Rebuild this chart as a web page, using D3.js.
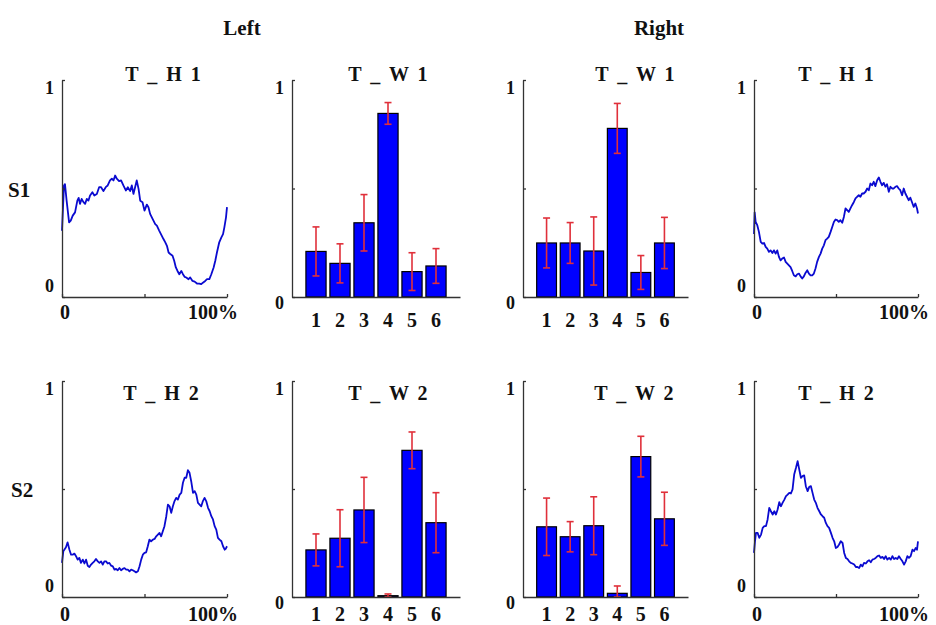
<!DOCTYPE html>
<html>
<head>
<meta charset="utf-8">
<script src="https://cdn.jsdelivr.net/npm/d3@7"></script>
<style>
  body { margin: 0; background: #fff; }
  svg text { font-family: "Liberation Serif", "Times New Roman", serif; font-weight: bold; fill: #111; }
  .axis path, .axis line { stroke: #333; stroke-width: 1.3; }
</style>
</head>
<body>
<svg id="chart" width="936" height="625"></svg>
<script>
// ---- data ----
const categories = [1, 2, 3, 4, 5, 6];

const wLeft1     = [0.210, 0.155, 0.342, 0.846, 0.117, 0.143];
const wLeft1Err  = [0.113, 0.090, 0.130, 0.050, 0.087, 0.080];
const wRight1    = [0.249, 0.249, 0.212, 0.777, 0.113, 0.249];
const wRight1Err = [0.115, 0.094, 0.157, 0.115, 0.078, 0.118];
const wLeft2     = [0.218, 0.272, 0.403, 0.006, 0.679, 0.344];
const wLeft2Err  = [0.074, 0.132, 0.151, 0.008, 0.085, 0.139];
const wRight2    = [0.325, 0.279, 0.330, 0.017, 0.650, 0.362];
const wRight2Err = [0.133, 0.070, 0.134, 0.034, 0.094, 0.123];

// [percent, value]
const hLeft1 = [[0,0.305],[1.2,0.514],[1.8,0.52],[2.8,0.444],[4.3,0.344],[5.3,0.352],[6.5,0.375],[7.9,0.39],
  [9.3,0.444],[10.1,0.457],[10.9,0.429],[11.9,0.452],[13,0.437],[14,0.429],[15,0.452],[16,0.444],[17,0.468],
  [18.4,0.483],[19.6,0.468],[21.1,0.475],[22.5,0.506],[23.7,0.506],[25.1,0.488],[26.5,0.506],[27.7,0.514],
  [29.1,0.537],[30.2,0.545],[31.2,0.537],[32.2,0.56],[33.2,0.545],[34.6,0.534],[35.8,0.537],[37.2,0.514],
  [38.7,0.491],[39.9,0.506],[41.3,0.488],[42.3,0.514],[43.3,0.475],[44.3,0.506],[45.3,0.537],[46.4,0.498],
  [47.4,0.444],[48.8,0.437],[50,0.398],[51.4,0.426],[52.4,0.414],[53.4,0.383],[54.9,0.36],[56.5,0.336],
  [57.5,0.329],[58.9,0.306],[60.5,0.282],[61.5,0.267],[62.6,0.252],[63.6,0.236],[64.6,0.205],[65.6,0.198],
  [67,0.19],[68,0.167],[69,0.136],[70,0.12],[71.1,0.105],[72.3,0.12],[73.3,0.105],[74.3,0.093],[75.3,0.09],
  [76.7,0.082],[77.7,0.09],[79.1,0.074],[80.4,0.071],[81.8,0.062],[83.2,0.062],[84.4,0.059],[85.4,0.066],
  [86.8,0.074],[87.9,0.082],[89.3,0.082],[90.5,0.105],[91.9,0.136],[92.9,0.167],[93.9,0.205],[95.3,0.252],
  [96.6,0.275],[97.6,0.29],[98.4,0.321],[99.4,0.367],[100,0.414]];

const hRight1 = [[0,0.29],[0.4,0.39],[1,0.346],[2,0.331],[3,0.30],[4.1,0.254],[5.1,0.246],[6.1,0.249],
  [7.1,0.231],[8.1,0.223],[9.1,0.208],[10.1,0.215],[11.2,0.203],[12.2,0.215],[13.2,0.2],[14.2,0.215],
  [15.2,0.185],[16.2,0.169],[17.2,0.177],[18.3,0.182],[19.3,0.162],[20.3,0.154],[21.3,0.146],[22.3,0.138],
  [23.3,0.12],[24.3,0.1],[25.4,0.095],[26.4,0.105],[27.4,0.108],[28.4,0.095],[29.4,0.085],[30.4,0.095],
  [31.4,0.111],[32.5,0.123],[33.5,0.108],[34.5,0.1],[35.5,0.1],[36.5,0.108],[37.5,0.131],[38.5,0.162],
  [39.6,0.185],[40.6,0.2],[41.6,0.223],[42.6,0.238],[43.6,0.262],[44.6,0.269],[45.6,0.277],[46.7,0.30],
  [47.7,0.323],[48.7,0.346],[49.7,0.357],[50.7,0.354],[51.7,0.346],[52.7,0.354],[53.8,0.342],[54.8,0.369],
  [55.8,0.408],[56.8,0.4],[57.8,0.392],[58.8,0.408],[59.8,0.423],[60.9,0.438],[61.9,0.454],[62.9,0.462],
  [63.9,0.469],[64.9,0.462],[65.9,0.477],[66.9,0.477],[68,0.485],[69,0.5],[70,0.492],[71,0.523],[72,0.515],
  [73,0.531],[74,0.511],[75.1,0.538],[76.1,0.551],[77.1,0.531],[78.1,0.515],[79.1,0.526],[80.1,0.508],
  [81.1,0.52],[82.2,0.485],[83.2,0.508],[84.2,0.5],[85.2,0.5],[86.2,0.508],[87.2,0.511],[88.2,0.5],
  [89.2,0.492],[90.3,0.469],[91.3,0.5],[92.3,0.477],[93.3,0.462],[94.3,0.446],[95.3,0.458],[96.3,0.438],
  [97.4,0.415],[98.4,0.431],[99.4,0.408],[100,0.385]];

const hLeft2 = [[0,0.158],[0.8,0.212],[2.4,0.23],[3.4,0.253],[4.5,0.219],[5.5,0.196],[6.5,0.196],[7.5,0.201],
  [8.5,0.189],[9.5,0.173],[10.5,0.181],[11.5,0.158],[12.6,0.173],[13.6,0.155],[14.6,0.173],[15.6,0.145],
  [16.6,0.139],[17.6,0.15],[18.6,0.158],[19.6,0.165],[20.6,0.176],[21.7,0.165],[22.7,0.158],[23.7,0.165],
  [24.7,0.15],[25.7,0.165],[26.7,0.165],[27.7,0.155],[28.7,0.158],[29.8,0.145],[30.8,0.142],[31.8,0.127],
  [32.8,0.13],[33.8,0.124],[34.8,0.134],[35.8,0.124],[36.8,0.13],[37.9,0.134],[38.9,0.127],[39.9,0.127],
  [40.9,0.119],[41.9,0.127],[42.9,0.124],[43.9,0.119],[44.9,0.114],[46,0.119],[47,0.142],[48,0.173],
  [49,0.196],[50,0.204],[51,0.207],[52,0.235],[53,0.266],[54,0.258],[55.1,0.266],[56.1,0.269],[57.1,0.281],
  [58.1,0.289],[59.1,0.297],[60.1,0.281],[61.1,0.304],[62.1,0.328],[63.2,0.374],[64.2,0.428],[65.2,0.42],
  [66.2,0.39],[67.2,0.42],[68.2,0.444],[69.2,0.459],[70.2,0.451],[71.3,0.474],[72.3,0.482],[73.3,0.529],
  [74.3,0.552],[75.3,0.552],[76.3,0.587],[77.3,0.575],[78.3,0.536],[79.4,0.482],[80.4,0.49],[81.4,0.474],
  [82.4,0.436],[83.4,0.428],[84.4,0.42],[85.4,0.444],[86.4,0.459],[87.4,0.444],[88.5,0.413],[89.5,0.397],
  [90.5,0.374],[91.5,0.359],[92.5,0.328],[93.5,0.312],[94.5,0.274],[95.5,0.266],[96.6,0.258],[97.6,0.235],
  [98.6,0.219],[99.2,0.223],[100,0.235]];

const hRight2 = [[0,0.204],[0.6,0.258],[1.2,0.297],[2.2,0.297],[3.2,0.274],[4.3,0.289],[5.3,0.32],[6.3,0.328],
  [7.3,0.328],[8.3,0.359],[9.3,0.413],[10.3,0.397],[11.4,0.382],[12.4,0.397],[13.4,0.382],[14.4,0.405],
  [15.4,0.439],[16.4,0.42],[17.4,0.436],[18.5,0.451],[19.5,0.467],[20.5,0.474],[21.5,0.482],[22.5,0.479],
  [23.5,0.498],[24.5,0.567],[25.6,0.598],[26.6,0.629],[27.6,0.59],[28.6,0.552],[29.6,0.56],[30.6,0.563],
  [31.6,0.513],[32.7,0.49],[33.7,0.51],[34.7,0.513],[35.7,0.482],[36.7,0.451],[37.7,0.436],[38.7,0.413],
  [39.8,0.397],[40.8,0.382],[41.8,0.374],[42.8,0.367],[43.8,0.343],[44.8,0.328],[45.8,0.32],[46.9,0.297],
  [47.9,0.274],[48.9,0.258],[49.9,0.227],[50.9,0.232],[51.9,0.243],[52.9,0.258],[54,0.25],[55,0.204],
  [56,0.181],[57,0.176],[58,0.165],[59,0.158],[60,0.155],[61.1,0.15],[62.1,0.139],[63.1,0.139],[64.1,0.134],
  [65.1,0.15],[66.1,0.142],[67.1,0.158],[68.2,0.155],[69.2,0.165],[70.2,0.17],[71.2,0.161],[72.2,0.173],
  [73.2,0.176],[74.2,0.181],[75.3,0.189],[76.3,0.192],[77.3,0.181],[78.3,0.186],[79.3,0.176],[80.3,0.189],
  [81.3,0.173],[82.4,0.181],[83.4,0.173],[84.4,0.189],[85.4,0.176],[86.4,0.181],[87.4,0.176],[88.4,0.189],
  [89.5,0.176],[90.5,0.165],[91.5,0.15],[92.5,0.165],[93.5,0.189],[94.5,0.181],[95.5,0.189],[96.6,0.219],
  [97.6,0.212],[98.6,0.227],[99.4,0.219],[100,0.258]];

const yTicks = [0, 0.5, 1];
const xTicksLine = [0, 50, 100];

// ---- layout ----
const rows = [{top: 80, bottom: 297, title: 81}, {top: 381, bottom: 597, title: 400}];
const cols = [{x0: 62, x1: 227}, {x0: 292, x1: 460}, {x0: 523, x1: 688}, {x0: 754, x1: 918}];

const panels = [
  {row: 0, col: 0, type: "line", data: hLeft1, title: "T _ H 1", tx: 164},
  {row: 0, col: 1, type: "bar", data: wLeft1, err: wLeft1Err, title: "T _ W 1", tx: 389},
  {row: 0, col: 2, type: "bar", data: wRight1, err: wRight1Err, title: "T _ W 1", tx: 636},
  {row: 0, col: 3, type: "line", data: hRight1, title: "T _ H 1", tx: 837},
  {row: 1, col: 0, type: "line", data: hLeft2, title: "T _ H 2", tx: 162},
  {row: 1, col: 1, type: "bar", data: wLeft2, err: wLeft2Err, title: "T _ W 2", tx: 389},
  {row: 1, col: 2, type: "bar", data: wRight2, err: wRight2Err, title: "T _ W 2", tx: 635},
  {row: 1, col: 3, type: "line", data: hRight2, title: "T _ H 2", tx: 837}
];

const svg = d3.select("#chart");

svg.append("text").attr("x", 242).attr("y", 35).attr("text-anchor", "middle")
  .style("font-size", "21px").text("Left");
svg.append("text").attr("x", 659).attr("y", 35).attr("text-anchor", "middle")
  .style("font-size", "21px").text("Right");
svg.append("text").attr("x", 8).attr("y", 197).style("font-size", "21px").text("S1");
svg.append("text").attr("x", 11).attr("y", 497).style("font-size", "21px").text("S2");

panels.forEach(p => {
  const r = rows[p.row], c = cols[p.col];
  const y = d3.scaleLinear().domain([0, 1]).range([r.bottom, r.top]);
  const g = svg.append("g");

  let x;
  if (p.type === "line") {
    x = d3.scaleLinear().domain([0, 100]).range([c.x0, c.x1]);
  } else {
    x = d3.scaleLinear().domain([0, 7]).range([c.x0, c.x1]);
  }

  // marks
  if (p.type === "line") {
    const line = d3.line().x(d => x(d[0])).y(d => y(d[1]));
    g.append("path").datum(p.data)
      .attr("d", line)
      .attr("fill", "none")
      .attr("stroke", "#0a0ad0")
      .attr("stroke-width", 1.8)
      .attr("stroke-linejoin", "round");
  } else {
    const bw = (x(1) - x(0)) * 0.84;
    g.selectAll("rect.bar").data(categories).join("rect")
      .attr("class", "bar")
      .attr("x", (d, i) => x(d) - bw / 2)
      .attr("y", (d, i) => y(p.data[i]))
      .attr("width", bw)
      .attr("height", (d, i) => y(0) - y(p.data[i]))
      .attr("fill", "#0000ff")
      .attr("stroke", "#000")
      .attr("stroke-width", 1.2);

    const cap = 3.5;
    const eb = g.selectAll("g.err").data(categories).join("g").attr("class", "err")
      .attr("stroke", "#e0303a").attr("stroke-width", 1.6);
    eb.append("line")
      .attr("x1", d => x(d)).attr("x2", d => x(d))
      .attr("y1", (d, i) => y(p.data[i] + p.err[i]))
      .attr("y2", (d, i) => y(Math.max(0, p.data[i] - p.err[i])));
    eb.append("line")
      .attr("x1", d => x(d) - cap).attr("x2", d => x(d) + cap)
      .attr("y1", (d, i) => y(p.data[i] + p.err[i]))
      .attr("y2", (d, i) => y(p.data[i] + p.err[i]));
    eb.append("line")
      .attr("x1", d => x(d) - cap).attr("x2", d => x(d) + cap)
      .attr("y1", (d, i) => y(Math.max(0, p.data[i] - p.err[i])))
      .attr("y2", (d, i) => y(Math.max(0, p.data[i] - p.err[i])));
  }

  // axes
  g.append("g").attr("class", "axis")
    .attr("transform", `translate(${c.x0},0)`)
    .call(d3.axisLeft(y).tickValues(yTicks).tickSizeInner(-3).tickSizeOuter(0).tickFormat(""));

  const xAxis = d3.axisBottom(x).tickSizeOuter(0).tickFormat("");
  if (p.type === "line") xAxis.tickValues(xTicksLine).tickSizeInner(-3);
  else xAxis.tickValues([]);
  g.append("g").attr("class", "axis")
    .attr("transform", `translate(0,${r.bottom})`)
    .call(xAxis);
  g.selectAll(".axis text").remove();

  // tick labels
  const lab = (tx, ty, t, size, anchor) => g.append("text")
    .attr("x", tx).attr("y", ty).attr("dy", "0.35em")
    .attr("text-anchor", anchor || "middle")
    .style("font-size", size + "px").text(t);

  lab(c.x0 - 8, y(1) + 8, "1", 18, "end");
  if (p.type === "line") {
    lab(c.x0 - 8, y(0) - 11, "0", 18, "end");
    const ly = r.bottom + (p.row === 0 ? 15 : 17);
    lab(x(0) + 3, ly, "0", 20);
    lab(x(100) - 14, ly, "100%", 20);
  } else {
    lab(c.x0 - 8, y(0) + 6, "0", 18, "end");
    const dy = p.row === 0 ? 23 : 17;
    categories.forEach(d => lab(x(d), r.bottom + dy, d, 20));
  }

  // title
  g.append("text")
    .attr("x", p.tx).attr("y", r.title)
    .attr("text-anchor", "middle")
    .attr("xml:space", "preserve")
    .style("white-space", "pre")
    .style("font-size", "20px")
    .style("letter-spacing", "2px")
    .text(p.title);
});
</script>
</body>
</html>
